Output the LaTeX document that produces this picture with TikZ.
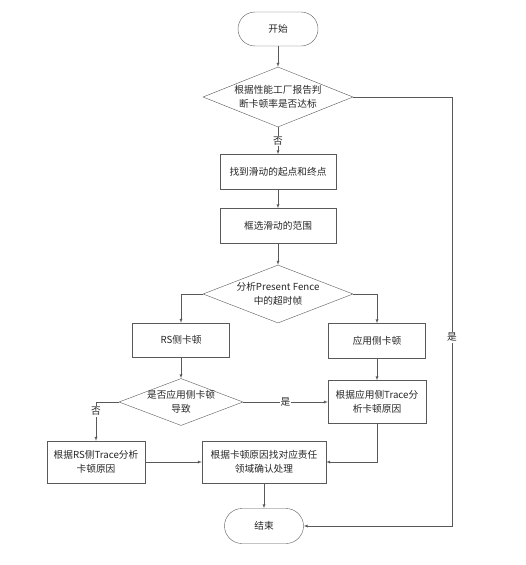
\documentclass[tikz,border=0pt]{standalone}
\usepackage{fontspec}
\setmainfont{Noto Sans CJK SC}
\usetikzlibrary{shapes.geometric}
\begin{document}
\begin{tikzpicture}[x=1pt,y=-1pt]
\tikzstyle{every node}=[font=\fontsize{9.7}{14}\selectfont,text=black!85]
\tikzstyle{terminal}=[draw=black!65,rectangle,rounded corners=17pt,minimum width=80pt,minimum height=34pt]
\tikzstyle{process}=[draw=black!65,rectangle,align=center,inner sep=2pt]
\tikzstyle{decision}=[draw=black!65,diamond,inner sep=0pt]
\tikzstyle{flow}=[draw=black!65,->,>=latex]
\tikzstyle{tag}=[fill=white,inner sep=1pt]
\useasboundingbox (0,0) rectangle (526,565);

\path (278,29) node[terminal](start){开始};
\path (278,97) node[decision,minimum width=150pt,minimum height=60pt,
  label={[align=center]center:根据性能工厂报告判\\断卡顿率是否达标}](check){};
\path (278,172) node[process,minimum width=116pt,minimum height=35pt](find){找到滑动的起点和终点};
\path (278,226) node[process,minimum width=116pt,minimum height=35pt](select){框选滑动的范围};
\path (278,294) node[decision,minimum width=150pt,minimum height=58pt,
  label={[align=center]center:分析Present Fence\\中的超时帧}](fence){};
\path (181,340) node[process,minimum width=97pt,minimum height=34pt](rs){RS侧卡顿};
\path (377,341) node[process,minimum width=97pt,minimum height=35pt](app){应用侧卡顿};
\path (181,402) node[decision,minimum width=124pt,minimum height=47pt,
  label={[align=center]center:是否应用侧卡顿\\导致}](cause){};
\path (96,462) node[process,minimum width=98pt,minimum height=42pt](rstrace){根据RS侧Trace分析\\卡顿原因};
\path (377,402) node[process,minimum width=98pt,minimum height=43pt](apptrace){根据应用侧Trace分\\析卡顿原因};
\path (264,462) node[process,minimum width=124pt,minimum height=42pt](handle){根据卡顿原因找对应责任\\领域确认处理};
\path (264,526) node[terminal,minimum width=79pt,minimum height=35pt,rounded corners=17.5pt](end){结束};
\coordinate (yes) at (452,97);

\draw[flow] (start) -- (check);
\draw[flow] (check) -- node[tag]{否} (find);
\draw[flow] (find) -- (select);
\draw[flow] (select) -- (fence);
\draw[flow] (fence.west) -| (rs);
\draw[flow] (fence.east) -| (app);
\draw[flow] (rs) -- (cause);
\draw[flow] (cause.west) -| node[tag,pos=0.62]{否} (rstrace);
\draw[flow] (cause.east) -- node[tag]{是} (apptrace);
\draw[flow] (app) -- (apptrace);
\draw[flow] (rstrace) -- (handle);
\draw[flow] (apptrace.south) |- (handle.east);
\draw[flow] (handle) -- (end);
\draw[flow] (check.east) -- (yes) |- node[tag,pos=0.28]{是} (end);
\end{tikzpicture}
\end{document}
